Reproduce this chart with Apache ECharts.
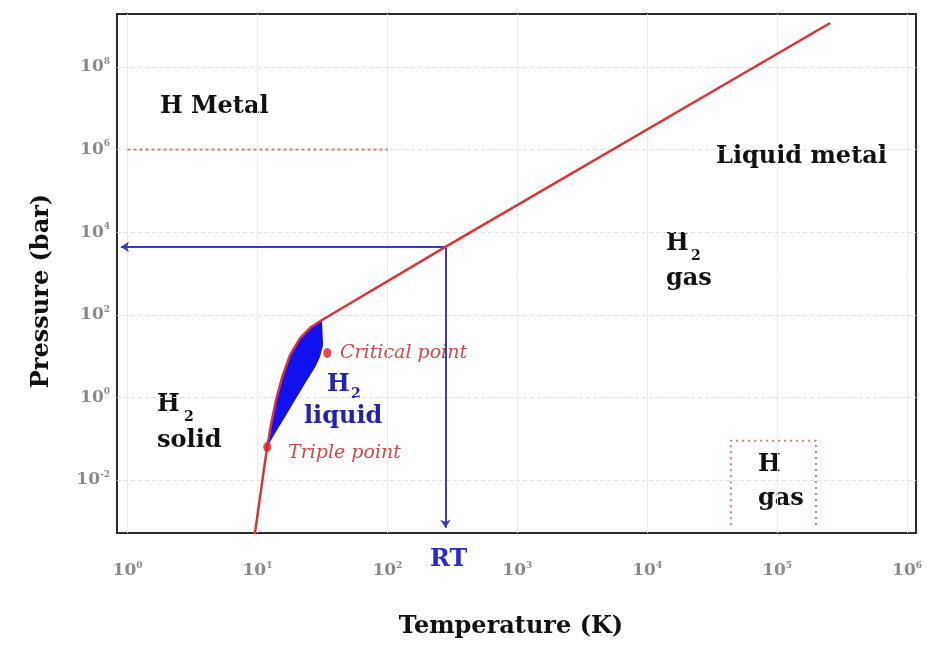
<!DOCTYPE html>
<html>
<head>
<meta charset="utf-8">
<title>Hydrogen phase diagram</title>
<script src="https://cdn.jsdelivr.net/npm/echarts@6/dist/echarts.min.js"></script>
<style>
  html, body { margin: 0; padding: 0; background: #fff; }
  #chart { width: 949px; height: 655px; }
</style>
</head>
<body>
<div id="chart"></div>
<script>
  // temperature in K, pressure in bar (both drawn on log10 axes)
  const xTicks = [0, 1, 2, 3, 4, 5, 6]
  const yTicks = [-2, 0, 2, 4, 6, 8]

  // melting line, then the straight line past room temperature
  const meltT = [9.36, 10.4, 11.2, 11.9, 12.7, 13.9, 15.5, 17.8, 21.3, 25.9, 31.4, 280, 256000]
  const meltP = [3.2e-4, 3.3e-3, 0.0175, 0.063, 0.215, 0.865, 3.1, 10.6, 27.4, 50.7, 74.8, 4400, 1.16e9]

  // liquid region outline (melting side up, vapour side down)
  const liquidT = [11.9, 12.7, 13.9, 15.5, 17.8, 21.3, 25.9, 31.4, 32.0, 30.3, 27.8, 23.3, 19.5, 16.3, 13.7]
  const liquidP = [0.063, 0.215, 0.865, 3.1, 10.6, 27.4, 50.7, 74.8, 18.6, 9.5, 5.4, 2.2, 0.86, 0.335, 0.137]

  const pointNames = ['Triple point', 'Critical point']
  const pointT = [11.9, 34.5]
  const pointP = [0.063, 11.9]

  // room temperature guide
  const rtT = 280
  const rtP = 4400
  const guideEndT = 0.89
  const guideEndP = 7e-4

  // metallic transition (dotted) and atomic gas box
  const metalT = [1, 101]
  const metalP = [1e6, 1e6]
  const hGasT = [4.4e4, 4.4e4, 1.99e5, 1.99e5]
  const hGasP = [8e-4, 0.0895, 0.0895, 8e-4]

  const lg = Math.log10
  const toXY = (ts, ps) => ts.map((t, i) => [lg(t), lg(ps[i])])

  const chart = echarts.init(document.getElementById('chart'))

  const tickLabel = {
    formatter: v => '{b|10}{s|' + Math.round(v) + '}',
    rich: {
      b: { fontFamily: 'DejaVu Serif', fontSize: 17, fontWeight: 'bold', color: '#8a8a8a', lineHeight: 20 },
      s: { fontFamily: 'DejaVu Serif', fontSize: 9, fontWeight: 'bold', color: '#8a8a8a', verticalAlign: 'top', lineHeight: 10 }
    }
  }

  const text = (x, y, str, font, color) => ({
    type: 'text', x: x, y: y,
    style: { text: str, font: font, fill: color, align: 'left', verticalAlign: 'middle' }
  })
  const big = 'bold 24px "DejaVu Serif"'
  const sub = 'bold 14px "DejaVu Serif"'
  const ital = 'italic 19px "DejaVu Serif"'

  const option = {
    animation: false,
    grid: {
      left: 117, right: 33, top: 14, bottom: 122,
      show: true, borderColor: '#2b2b2b', borderWidth: 2
    },
    xAxis: {
      type: 'value', min: -0.081, max: 6.069,
      axisLine: { show: false },
      axisTick: { show: false, customValues: xTicks },
      axisLabel: Object.assign({}, tickLabel, { customValues: xTicks, margin: 28 }),
      splitLine: { show: true, lineStyle: { color: '#ededed', width: 1 } }
    },
    yAxis: {
      type: 'value', min: -3.283, max: 9.283,
      axisLine: { show: false },
      axisTick: { show: false, customValues: yTicks },
      axisLabel: Object.assign({}, tickLabel, { customValues: yTicks, margin: 7 }),
      splitLine: { show: true, lineStyle: { color: '#e2e2e2', width: 1, type: [4, 3] } }
    },
    graphic: [
      text(160, 107, 'H Metal', big, '#111'),
      text(716, 157, 'Liquid metal', big, '#111'),
      text(666, 244, 'H', big, '#111'),
      text(691, 256, '2', sub, '#111'),
      text(666, 279, 'gas', big, '#111'),
      text(157, 405, 'H', big, '#111'),
      text(184, 417, '2', sub, '#111'),
      text(157, 441, 'solid', big, '#111'),
      text(327, 385, 'H', big, '#2222b4'),
      text(351, 394, '2', sub, '#2222b4'),
      text(304, 417, 'liquid', big, '#2222b4'),
      text(340, 353, pointNames[1], ital, '#d0484c'),
      text(288, 453, pointNames[0], ital, '#d0484c'),
      text(430, 560, 'RT', big, '#2a2ad0'),
      text(758, 465, 'H', big, '#111'),
      text(758, 499, 'gas', big, '#111'),
      {
        type: 'text', x: 42, y: 291, rotation: Math.PI / 2,
        style: { text: 'Pressure (bar)', font: big, fill: '#111', align: 'center', verticalAlign: 'middle' }
      },
      {
        type: 'text', x: 511, y: 627,
        style: { text: 'Temperature (K)', font: big, fill: '#111', align: 'center', verticalAlign: 'middle' }
      }
    ],
    series: [
      {
        type: 'custom',
        z: 2,
        clip: true,
        renderItem: (params, api) => ({
          type: 'polygon',
          shape: { points: toXY(liquidT, liquidP).map(p => api.coord(p)) },
          style: { fill: '#1212f0' }
        }),
        data: [[0, 0]]
      },
      {
        type: 'line',
        z: 3,
        data: toXY(metalT, metalP),
        symbol: 'none',
        lineStyle: { color: '#cc8470', width: 2, type: [3, 3] }
      },
      {
        type: 'line',
        z: 3,
        data: toXY(hGasT, hGasP),
        symbol: 'none',
        lineStyle: { color: '#c98075', width: 2, type: [2, 4] }
      },
      {
        type: 'line',
        z: 4,
        data: [],
        markLine: {
          silent: true,
          symbol: ['none', 'arrow'],
          symbolSize: 8,
          label: { show: false },
          lineStyle: { color: '#3c3cb0', width: 2, type: 'solid' },
          data: [
            [{ coord: [lg(rtT), lg(rtP)] }, { coord: [lg(guideEndT), lg(rtP)] }],
            [{ coord: [lg(rtT), lg(rtP)] }, { coord: [lg(rtT), lg(guideEndP)] }]
          ]
        }
      },
      {
        type: 'line',
        z: 5,
        data: toXY(meltT, meltP),
        symbol: 'none',
        lineStyle: { color: '#d8343c', width: 2.5 }
      },
      {
        type: 'scatter',
        z: 6,
        data: toXY(pointT, pointP),
        symbolSize: [8, 10],
        itemStyle: { color: '#e01c24' }
      }
    ]
  }

  chart.setOption(option)
</script>
</body>
</html>
